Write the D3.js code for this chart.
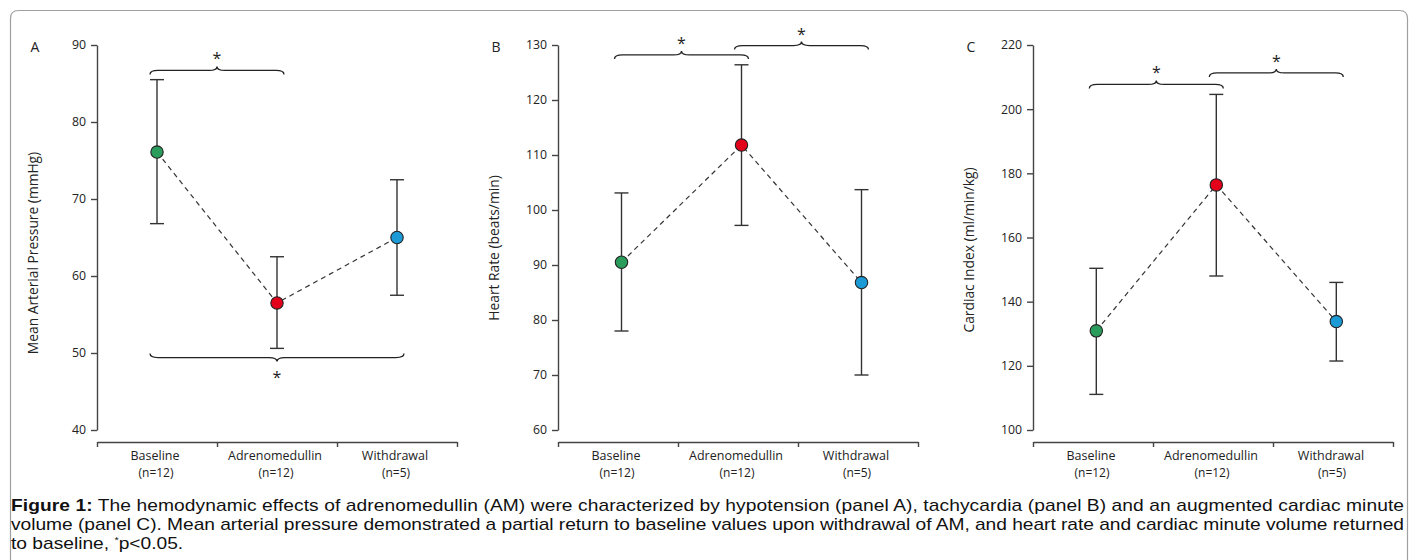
<!DOCTYPE html>
<html>
<head>
<meta charset="utf-8">
<script src="https://cdn.jsdelivr.net/npm/d3@7"></script>
<style>
  html, body { margin: 0; padding: 0; background: #fff; }
  svg { display: block; }
</style>
</head>
<body>
<svg id="chart" width="1414" height="560"></svg>
<script>
// ---------------- DATA ----------------
const categories = ["Baseline", "Adrenomedullin", "Withdrawal"];
const nLabels = ["(n=12)", "(n=12)", "(n=5)"];

// Panel A: Mean arterial pressure (mmHg)
const mapMean = [76.1, 56.5, 65.0];
const mapLow  = [66.8, 50.6, 57.5];
const mapHigh = [85.5, 62.5, 72.5];
const mapTicks = [40, 50, 60, 70, 80, 90];
const mapSig = [
  { from: 0, to: 1, level: 86.7, side: "top" },
  { from: 0, to: 2, level: 49.4, side: "bottom" }
];

// Panel B: Heart rate (beats/min)
const hrMean = [90.5, 111.8, 86.8];
const hrLow  = [78.0, 97.2, 70.0];
const hrHigh = [103.1, 126.4, 103.7];
const hrTicks = [60, 70, 80, 90, 100, 110, 120, 130];
const hrSig = [
  { from: 0, to: 1, level: 128.2, side: "top" },
  { from: 1, to: 2, level: 129.9, side: "top" }
];

// Panel C: Cardiac index (ml/min/kg)
const ciMean = [130.9, 176.4, 133.8];
const ciLow  = [111.1, 148.0, 121.5];
const ciHigh = [150.4, 204.6, 146.0];
const ciTicks = [100, 120, 140, 160, 180, 200, 220];
const ciSig = [
  { from: 0, to: 1, level: 207.7, side: "top" },
  { from: 1, to: 2, level: 211.3, side: "top" }
];

const panelLetters = ["A", "B", "C"];
const axisTitles = ["Mean Arterial Pressure (mmHg)", "Heart Rate (beats/min)", "Cardiac Index (ml/min/kg)"];
const pointColors = ["#2a9d5c", "#e2001a", "#1b9ad6"];

const captionBold = "Figure 1:";
const captionLine1 = " The hemodynamic effects of adrenomedullin (AM) were characterized by hypotension (panel A), tachycardia (panel B) and an augmented cardiac minute";
const captionLine2 = "volume (panel C). Mean arterial pressure demonstrated a partial return to baseline values upon withdrawal of AM, and heart rate and cardiac minute volume returned";
const captionLine3a = "to baseline, ";
const captionSup = "*";
const captionLine3b = "p<0.05.";

// ---------------- LAYOUT ----------------
const svg = d3.select("#chart");
const FONT = "'Open Sans', 'Noto Sans', sans-serif";
const INK = "#333";

svg.append("path")
  .attr("d", "M10.5,560 V18.5 Q10.5,10.5 18.5,10.5 H1399.5 Q1407.5,10.5 1407.5,18.5 V560")
  .attr("fill", "none").attr("stroke", "#a0a0a0").attr("stroke-width", 1.2);

const panels = [
  { mean: mapMean, low: mapLow, high: mapHigh, ticks: mapTicks, sig: mapSig },
  { mean: hrMean,  low: hrLow,  high: hrHigh,  ticks: hrTicks,  sig: hrSig },
  { mean: ciMean,  low: ciLow,  high: ciHigh,  ticks: ciTicks,  sig: ciSig }
];
const layout = [
  { ax: 97,  shift: 0,   titleY: 253 },
  { ax: 558, shift: 3.5, titleY: 248 },
  { ax: 1033, shift: 3.3, titleY: 250 }
];
const plotTop = 45, plotBottom = 430, xAxisY = 442, plotW = 360;

panels.forEach((p, i) => {
  const L = layout[i];
  const g = svg.append("g");
  const x = d3.scaleBand().domain(categories).range([L.ax, L.ax + plotW]).paddingInner(0).paddingOuter(0);
  const px = c => x(c) + x.bandwidth() / 2 + L.shift;
  const y = d3.scaleLinear().domain(d3.extent(p.ticks)).range([plotBottom, plotTop]);

  // y axis
  const yAx = g.append("g").attr("transform", `translate(${L.ax},0)`)
    .call(d3.axisLeft(y).tickValues(p.ticks).tickSize(6).tickSizeOuter(0).tickPadding(5).tickFormat(d3.format("d")));
  yAx.selectAll("path, line").attr("stroke", "#444").attr("stroke-width", 1.4);
  yAx.selectAll("text").attr("font-family", FONT).attr("font-size", 12.3).attr("fill", "#222");

  // x axis (ticks at band boundaries)
  const xb = d3.scaleLinear().domain([0, categories.length]).range([L.ax, L.ax + plotW]);
  const xAx = g.append("g").attr("transform", `translate(0,${xAxisY})`)
    .call(d3.axisBottom(xb).tickValues(d3.range(categories.length + 1)).tickSize(5).tickSizeOuter(0).tickFormat(""));
  xAx.selectAll("path, line").attr("stroke", "#444").attr("stroke-width", 1.4);

  // category labels
  g.selectAll(".cat").data(categories).join("text")
    .attr("x", c => x(c) + x.bandwidth() / 2 - 2).attr("y", 460)
    .attr("text-anchor", "middle").attr("font-family", FONT).attr("font-size", 12.5).attr("fill", "#222")
    .text(c => c);
  g.selectAll(".n").data(categories).join("text")
    .attr("x", c => x(c) + x.bandwidth() / 2 - 1).attr("y", 477)
    .attr("text-anchor", "middle").attr("font-family", FONT).attr("font-size", 12).attr("fill", "#222")
    .text((c, j) => nLabels[j]);

  // panel letter & axis title
  g.append("text").attr("x", L.ax - 62).attr("y", 52).attr("text-anchor", "middle")
    .attr("font-family", FONT).attr("font-size", 14).attr("fill", "#222").text(panelLetters[i]);
  g.append("text")
    .attr("transform", `translate(${L.ax - 59},${L.titleY}) rotate(-90)`)
    .attr("text-anchor", "middle").attr("font-family", FONT).attr("font-size", 13.8).attr("fill", "#222")
    .text(axisTitles[i]);

  // dashed connecting line
  const line = d3.line().x((d, j) => px(categories[j])).y(d => y(d));
  g.append("path").attr("d", line(p.mean)).attr("fill", "none")
    .attr("stroke", INK).attr("stroke-width", 1.2).attr("stroke-dasharray", "5,4");

  // error bars
  const eb = g.selectAll(".eb").data(categories).join("g");
  eb.append("line").attr("x1", px).attr("x2", px)
    .attr("y1", (c, j) => y(p.high[j])).attr("y2", (c, j) => y(p.low[j]))
    .attr("stroke", INK).attr("stroke-width", 1.4);
  eb.append("line").attr("x1", c => px(c) - 7).attr("x2", c => px(c) + 7)
    .attr("y1", (c, j) => y(p.high[j])).attr("y2", (c, j) => y(p.high[j]))
    .attr("stroke", INK).attr("stroke-width", 1.4);
  eb.append("line").attr("x1", c => px(c) - 7).attr("x2", c => px(c) + 7)
    .attr("y1", (c, j) => y(p.low[j])).attr("y2", (c, j) => y(p.low[j]))
    .attr("stroke", INK).attr("stroke-width", 1.4);

  // points
  g.selectAll(".pt").data(categories).join("circle")
    .attr("cx", px).attr("cy", (c, j) => y(p.mean[j])).attr("r", 6.2)
    .attr("fill", (c, j) => pointColors[j]).attr("stroke", "#222").attr("stroke-width", 1.1);

  // significance braces
  p.sig.forEach(s => {
    const x1 = px(categories[s.from]) - 7, x2 = px(categories[s.to]) + 7;
    const y0 = y(s.level), m = (x1 + x2) / 2, h = 4, r = 8;
    const dir = s.side === "top" ? -1 : 1;
    const d = `M${x1},${y0 - dir * h} Q${x1},${y0} ${x1 + r},${y0} L${m - r},${y0} Q${m},${y0} ${m},${y0 + dir * h} ` +
              `Q${m},${y0} ${m + r},${y0} L${x2 - r},${y0} Q${x2},${y0} ${x2},${y0 - dir * h}`;
    g.append("path").attr("d", d).attr("fill", "none").attr("stroke", "#222").attr("stroke-width", 1.3);
    g.append("text").attr("x", m)
      .attr("y", s.side === "top" ? y0 - h - 2 : y0 + h + 21.7)
      .attr("text-anchor", "middle").attr("font-family", FONT).attr("font-size", 16).attr("fill", "#222")
      .text("*");
  });
});

// ---------------- CAPTION ----------------
const sx = 1.2, capX = 11, capRight = 1404;
const cap = svg.append("g").attr("transform", `translate(${capX},0) scale(${sx},1)`)
  .attr("font-family", "'Liberation Sans', Arial, sans-serif").attr("font-size", 16).attr("fill", "#111");
const target = (capRight - capX) / sx;

const t1 = cap.append("text").attr("x", 0).attr("y", 511);
t1.append("tspan").attr("font-weight", "bold").text(captionBold);
t1.append("tspan").text(captionLine1);
t1.attr("textLength", target).attr("lengthAdjust", "spacing");

const t2 = cap.append("text").attr("x", 0).attr("y", 530).text(captionLine2);
t2.attr("textLength", target).attr("lengthAdjust", "spacing");

const t3 = cap.append("text").attr("x", 0).attr("y", 549);
t3.append("tspan").text(captionLine3a);
t3.append("tspan").attr("font-size", 9).attr("dy", -6).text(captionSup);
t3.append("tspan").attr("dy", 6).text(captionLine3b);
</script>
</body>
</html>
